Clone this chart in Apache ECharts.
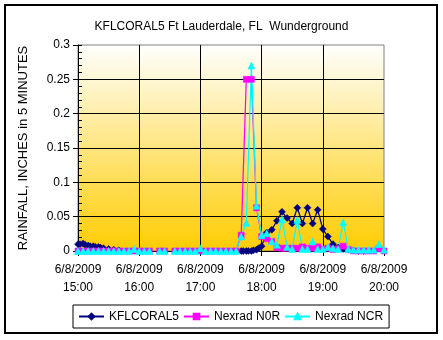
<!DOCTYPE html>
<html>
<head>
<meta charset="utf-8">
<script src="https://cdn.jsdelivr.net/npm/echarts@6/dist/echarts.min.js"></script>
<style>
  html, body { margin: 0; padding: 0; background: #fff; }
  #chart { width: 443px; height: 340px; }
</style>
</head>
<body>
<div id="chart"></div>
<script>
// Nexrad estimates, one reading every 5 minutes (null = no estimate)
const nexradTimes = [
  '15:00','15:05','15:10','15:15','15:20','15:25','15:30','15:35','15:40','15:45','15:50','15:55',
  '16:00','16:05','16:10','16:15','16:20','16:25','16:30','16:35','16:40','16:45','16:50','16:55',
  '17:00','17:05','17:10','17:15','17:20','17:25','17:30','17:35','17:40','17:45','17:50','17:55',
  '18:00','18:05','18:10','18:15','18:20','18:25','18:30','18:35','18:40','18:45','18:50','18:55',
  '19:00','19:05','19:10','19:15','19:20','19:25','19:30','19:35','19:40','19:45','19:50','19:55',
  '20:00'
];
const n0rValues = [
  0, 0, 0, 0, 0, 0, 0, 0, 0, 0, 0, 0,
  0, 0, 0, null, 0, 0, null, 0, 0, 0, 0, 0,
  0, 0, 0, 0, 0, 0, 0, 0, 0.023, 0.25, 0.25, 0.063,
  0.021, 0.018, 0.014, 0.005, 0.004, 0.004, 0.004, 0.004, 0.006, 0.004, 0.004, 0.006,
  0.003, 0.004, 0.002, 0.003, 0.007, 0.002, 0, 0, 0, 0, 0, 0.003,
  0
];
const ncrValues = [
  0, 0, 0, 0, 0, 0, 0, 0, 0, 0, 0, 0.003,
  0, 0, 0, null, 0, 0, null, 0, 0, 0, 0, 0,
  0.004, 0, 0, 0, 0, 0, 0, 0, 0.021, 0.041, 0.27, 0.066,
  0.023, 0.026, 0.014, 0.009, 0.046, 0.006, 0.003, 0.045, 0.003, 0.003, 0.014, 0.003,
  0.003, 0.006, 0.004, 0.003, 0.042, 0.003, 0.002, 0.002, 0.002, 0.002, 0.002, 0.010,
  0.002
];

// Weather station KFLCORAL5 readings (irregular reporting times)
const coralTimes = [
  '15:00','15:02','15:05','15:07','15:10','15:12','15:15','15:17','15:20','15:22','15:25','15:30','15:35','15:40',
  '16:40',
  '17:40','17:42','17:45','17:47','17:50','17:52','17:55','17:57','18:00',
  '18:05','18:10','18:15','18:20','18:25','18:30','18:35','18:40','18:45','18:50','18:55',
  '19:00','19:05','19:10','19:15','19:20','19:25','19:30','19:35','19:40'
];
const coralValues = [
  0.010, 0.010, 0.011, 0.009, 0.008, 0.007, 0.007, 0.006, 0.006, 0.005, 0.004, 0.003, 0.002, 0.001,
  null,
  0, 0, 0, 0, 0, 0.001, 0.002, 0.004, 0.007,
  0.027, 0.031, 0.044, 0.057, 0.048, 0.040, 0.063, 0.040, 0.063, 0.040, 0.060,
  0.032, 0.021, 0.010, 0.005, 0.003, 0.002, 0.001, 0, 0
];

const dateLabel = '6/8/2009';
const hourLabels = ['15:00', '16:00', '17:00', '18:00', '19:00', '20:00'];
const yTicks = [0, 0.05, 0.1, 0.15, 0.2, 0.25, 0.3];

// minutes after 15:00
function toMinutes(t) {
  const [h, m] = t.split(':').map(Number);
  return (h - 15) * 60 + m;
}
function pairs(times, values) {
  return times.map((t, i) => [toMinutes(t), values[i]]);
}

const FONT = '"Liberation Sans", Arial, sans-serif';

const chart = echarts.init(document.getElementById('chart'), null, { renderer: 'canvas' });

const lineSeries = (name, color, symbol, size, data) => ({
  name, type: 'line', data,
  symbol, symbolSize: size,
  showAllSymbol: true,
  connectNulls: false,
  animation: false,
  lineStyle: { color, width: 1.25 },
  itemStyle: { color, borderColor: color, borderWidth: 0.5 },
  emphasis: { disabled: true }
});

chart.setOption({
  backgroundColor: '#ffffff',
  animation: false,
  textStyle: { fontFamily: FONT },
  title: {
    text: 'KFLCORAL5 Ft Lauderdale, FL  Wunderground',
    left: 'center',
    top: 16,
    textStyle: { fontFamily: FONT, fontSize: 12, fontWeight: 'normal', color: '#000' }
  },
  graphic: [{
    type: 'rect',
    shape: { x: 5, y: 5, width: 432, height: 328 },
    style: { fill: null, stroke: '#000', lineWidth: 2 },
    silent: true, z: 100
  }],
  legend: {
    left: 73, top: 305,
    orient: 'horizontal',
    itemWidth: 25, itemHeight: 7, itemGap: 4,
    padding: [4, 6, 4, 5],
    borderColor: '#000', borderWidth: 1,
    textStyle: { fontFamily: FONT, fontSize: 12, color: '#000', lineHeight: 15 },
    data: ['KFLCORAL5', 'Nexrad N0R', 'Nexrad NCR']
  },
  grid: {
    left: 78, right: 59, top: 45, bottom: 89,
    show: true,
    borderColor: '#808080', borderWidth: 1,
    backgroundColor: new echarts.graphic.LinearGradient(0, 0, 0, 1, [
      { offset: 0, color: '#FFFFFF' },
      { offset: 1, color: '#FFCC00' }
    ])
  },
  xAxis: {
    type: 'value', min: 0, max: 300, interval: 60,
    axisLine: { show: true, onZero: false, lineStyle: { color: '#000', width: 1 } },
    axisTick: { show: true, length: 5, lineStyle: { color: '#000' } },
    splitLine: { show: true, showMinLine: false, showMaxLine: false, lineStyle: { color: '#000', width: 1 } },
    axisLabel: {
      margin: 10, lineHeight: 18,
      fontFamily: FONT, fontSize: 12, color: '#000',
      formatter: (v) => dateLabel + '\n' + hourLabels[Math.round(v / 60)]
    }
  },
  yAxis: [{
    type: 'value', min: 0, max: 0.3, interval: 0.05,
    name: 'RAINFALL, INCHES in 5 MINUTES',
    nameLocation: 'middle', nameGap: 48, nameRotate: 90,
    nameTextStyle: { fontFamily: FONT, fontSize: 13, color: '#000' },
    axisLine: { show: true, lineStyle: { color: '#000', width: 1 } },
    axisTick: { show: true, length: 5, lineStyle: { color: '#000' } },
    splitLine: { show: true, showMinLine: false, showMaxLine: false, lineStyle: { color: '#000', width: 1 } },
    axisLabel: {
      margin: 8, fontFamily: FONT, fontSize: 12, color: '#000',
      formatter: (v) => String(yTicks.find(t => Math.abs(t - v) < 1e-9) ?? v)
    }
  }, {
    // minor ticks every 0.01 drawn on the inside of the axis
    type: 'value', min: 0, max: 0.3, interval: 0.01, position: 'left',
    axisLine: { show: false },
    axisTick: { show: true, inside: true, length: 4, lineStyle: { color: '#000' } },
    axisLabel: { show: false },
    splitLine: { show: false }
  }],
  series: [
    lineSeries('KFLCORAL5', '#000080', 'diamond', 7, pairs(coralTimes, coralValues)),
    lineSeries('Nexrad N0R', '#FF00FF', 'rect', 6, pairs(nexradTimes, n0rValues)),
    lineSeries('Nexrad NCR', '#00FFFF', 'triangle', 7, pairs(nexradTimes, ncrValues))
  ]
});
</script>
</body>
</html>
